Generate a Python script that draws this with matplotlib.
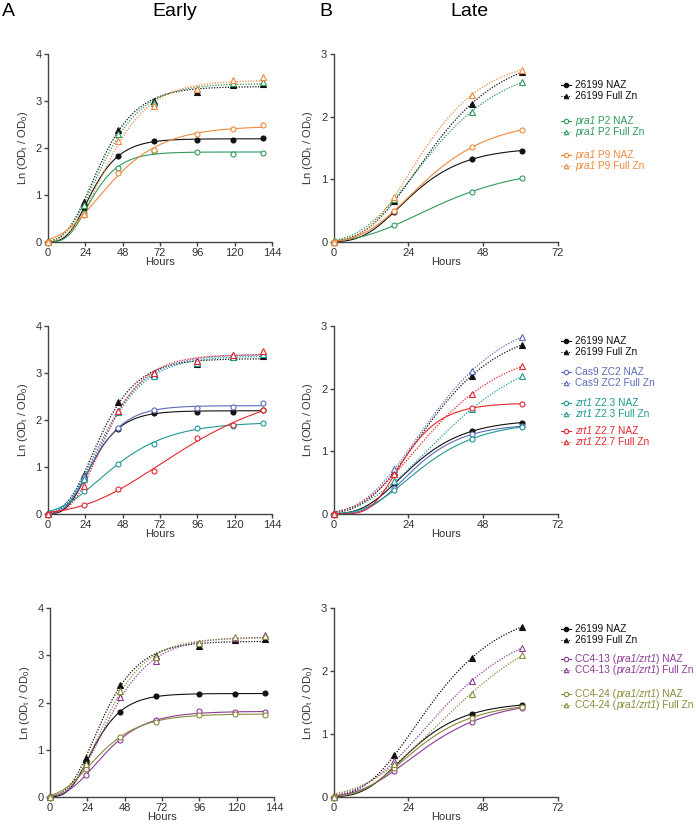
import numpy as np
import matplotlib
matplotlib.use("Agg")
import matplotlib.pyplot as plt

plt.rcParams['font.family'] = ['Liberation Sans', 'DejaVu Sans']
plt.rcParams['mathtext.fontset'] = 'custom'
plt.rcParams['mathtext.rm'] = 'Liberation Sans'
plt.rcParams['mathtext.it'] = 'Liberation Sans:italic'

# time points (hours)
hours_early = [0, 23, 45, 68, 96, 119, 138]
hours_late = [0, 19.5, 44.5, 60.5]

# row 1 - early
e1_wt_naz = [0, 0.72, 1.82, 2.15, 2.18, 2.17, 2.22]
e1_wt_zn = [0, 0.85, 2.39, 2.99, 3.19, 3.33, 3.36]
e1_p2_naz = [0, 0.62, 1.58, 1.94, 1.92, 1.87, 1.90]
e1_p2_zn = [0, 0.78, 2.29, 2.95, 3.25, 3.38, 3.41]
e1_p9_naz = [0, 0.58, 1.47, 1.95, 2.30, 2.41, 2.48]
e1_p9_zn = [0, 0.60, 2.15, 2.90, 3.25, 3.44, 3.50]
# row 1 - late
l1_wt_naz = [0, 0.48, 1.32, 1.46]
l1_wt_zn = [0, 0.65, 2.21, 2.71]
l1_p2_naz = [0, 0.27, 0.80, 1.02]
l1_p2_zn = [0, 0.69, 2.08, 2.55]
l1_p9_naz = [0, 0.50, 1.51, 1.79]
l1_p9_zn = [0, 0.72, 2.35, 2.75]

# row 2 - early
e2_wt_naz = [0, 0.72, 1.81, 2.15, 2.18, 2.17, 2.22]
e2_wt_zn = [0, 0.84, 2.38, 2.98, 3.19, 3.33, 3.36]
e2_cas_naz = [0, 0.74, 1.83, 2.22, 2.25, 2.28, 2.36]
e2_cas_zn = [0, 0.80, 2.20, 3.00, 3.25, 3.38, 3.42]
e2_z23_naz = [0, 0.48, 1.07, 1.50, 1.82, 1.88, 1.94]
e2_z23_zn = [0, 0.75, 2.16, 2.94, 3.22, 3.34, 3.40]
e2_z27_naz = [0, 0.20, 0.53, 0.92, 1.61, 1.90, 2.21]
e2_z27_zn = [0, 0.60, 2.20, 3.00, 3.25, 3.38, 3.47]
# row 2 - late
l2_wt_naz = [0, 0.48, 1.32, 1.46]
l2_wt_zn = [0, 0.67, 2.21, 2.70]
l2_cas_naz = [0, 0.41, 1.27, 1.40]
l2_cas_zn = [0, 0.72, 2.28, 2.83]
l2_z23_naz = [0, 0.38, 1.20, 1.39]
l2_z23_zn = [0, 0.52, 1.67, 2.20]
l2_z27_naz = [0, 0.62, 1.69, 1.76]
l2_z27_zn = [0, 0.64, 1.91, 2.36]

# row 3 - early
e3_wt_naz = [0, 0.72, 1.80, 2.14, 2.17, 2.17, 2.21]
e3_wt_zn = [0, 0.83, 2.38, 2.98, 3.19, 3.32, 3.34]
e3_c13_naz = [0, 0.47, 1.21, 1.62, 1.81, 1.79, 1.79]
e3_c13_zn = [0, 0.65, 2.12, 2.88, 3.25, 3.37, 3.42]
e3_c24_naz = [0, 0.60, 1.26, 1.59, 1.74, 1.76, 1.74]
e3_c24_zn = [0, 0.70, 2.24, 2.96, 3.25, 3.38, 3.40]
# row 3 - late
l3_wt_naz = [0, 0.48, 1.32, 1.46]
l3_wt_zn = [0, 0.66, 2.21, 2.70]
l3_c13_naz = [0, 0.42, 1.19, 1.42]
l3_c13_zn = [0, 0.57, 1.84, 2.37]
l3_c24_naz = [0, 0.46, 1.26, 1.43]
l3_c24_zn = [0, 0.53, 1.64, 2.25]

BLACK = '#111111'
GREEN = '#2f9a5c'
ORANGE = '#f0893c'
BLUE = '#5b6cb8'
TEAL = '#1f9994'
RED = '#e5262e'
PURPLE = '#8c3a94'
OLIVE = '#8a8a3a'

# legend labels as (text, italic) pieces
labels_row1 = [[('26199 NAZ', False)], [('26199 Full Zn', False)],
               [('pra1', True), (' P2 NAZ', False)], [('pra1', True), (' P2 Full Zn', False)],
               [('pra1', True), (' P9 NAZ', False)], [('pra1', True), (' P9 Full Zn', False)]]
labels_row2 = [[('26199 NAZ', False)], [('26199 Full Zn', False)],
               [('Cas9 ZC2 NAZ', False)], [('Cas9 ZC2 Full Zn', False)],
               [('zrt1', True), (' Z2.3 NAZ', False)], [('zrt1', True), (' Z2.3 Full Zn', False)],
               [('zrt1', True), (' Z2.7 NAZ', False)], [('zrt1', True), (' Z2.7 Full Zn', False)]]
labels_row3 = [[('26199 NAZ', False)], [('26199 Full Zn', False)],
               [('CC4-13 (', False), ('pra1/zrt1', True), (') NAZ', False)],
               [('CC4-13 (', False), ('pra1/zrt1', True), (') Full Zn', False)],
               [('CC4-24 (', False), ('pra1/zrt1', True), (') NAZ', False)],
               [('CC4-24 (', False), ('pra1/zrt1', True), (') Full Zn', False)]]


def gompertz(t, A, mu, lam):
    with np.errstate(over='ignore', invalid='ignore'):
        return A * np.exp(-np.exp(mu * np.e / A * (lam - t) + 1))


def fit_gompertz(t, y):
    # crude grid search, then finer ones around the best point
    t = np.asarray(t, float)
    y = np.asarray(y, float)
    ym = y.max()
    A = np.linspace(0.9 * ym, 2.5 * ym, 70)
    mu = np.geomspace(0.005, 0.4, 70)
    lam = np.linspace(-15, 40, 70)
    for _ in range(3):
        AA, MM, LL = np.meshgrid(A, mu, lam, indexing='ij')
        pred = gompertz(t[None, None, None, :], AA[..., None], MM[..., None], LL[..., None])
        err = np.nansum((pred - y) ** 2, axis=-1)
        i, j, k = np.unravel_index(np.nanargmin(err), err.shape)
        a0, m0, l0 = A[i], mu[j], lam[k]
        da = (A[1] - A[0]) * 1.5
        dm = (mu[min(j + 1, len(mu) - 1)] - mu[max(j - 1, 0)])
        dl = (lam[1] - lam[0]) * 1.5
        A = np.linspace(max(a0 - da, 0.05), a0 + da, 25)
        mu = np.linspace(max(m0 - dm, 1e-4), m0 + dm, 25)
        lam = np.linspace(l0 - dl, l0 + dl, 25)
    return a0, m0, l0


def draw_series(ax, t, y, color, marker, filled, dotted):
    p = fit_gompertz(t, y)
    tt = np.linspace(0, max(t), 300)
    ax.plot(tt, gompertz(tt, *p), color=color, lw=0.8 if not dotted else 0.9,
            ls=(0, (1, 1.2)) if dotted else '-', zorder=2, clip_on=False)
    ax.plot(t, y, ls='none', marker=marker, ms=3.6 if marker == 'o' else 3.8,
            mfc=color if filled else 'white', mec=color, mew=0.8, zorder=3, clip_on=False)


def style_axes(ax, xmax, ymax):
    ax.set_xlim(0, xmax)
    ax.set_ylim(0, ymax)
    ax.set_xticks(np.arange(0, xmax + 1, 24))
    ax.set_yticks(np.arange(0, ymax + 1, 1))
    for s in ['top', 'right']:
        ax.spines[s].set_visible(False)
    for s in ['left', 'bottom']:
        ax.spines[s].set_color('#444444')
        ax.spines[s].set_linewidth(1.0)
    ax.tick_params(direction='out', length=3, width=1, colors='#444444',
                   labelsize=8, labelcolor='#333333', pad=1.5)
    ax.set_xlabel('Hours', fontsize=8, color='#333333', labelpad=-1)
    ax.set_ylabel(r'Ln (OD$_\mathrm{t}$ / OD$_\mathrm{0}$)', fontsize=8,
                  color='#333333', labelpad=4)


def piece_text(ax, x, y, pieces, color, size):
    # regular + italic pieces chained one after another
    prev = ax.text(x, y, pieces[0][0], color=color, fontsize=size, va='center', ha='left',
                   style='italic' if pieces[0][1] else 'normal')
    for txt, it in pieces[1:]:
        prev = ax.annotate(txt, xy=(1, 0), xycoords=prev, va='bottom', ha='left',
                           color=color, fontsize=size, style='italic' if it else 'normal')


W, H = 696, 830
fig = plt.figure(figsize=(W / 100, H / 100), dpi=100)


def px_axes(x0, y0, x1, y1):
    return fig.add_axes([x0 / W, 1 - y1 / H, (x1 - x0) / W, (y1 - y0) / H])


rows = [
    (54, 242, 48, [
        (e1_wt_naz, l1_wt_naz, BLACK, 'o', True, False),
        (e1_wt_zn, l1_wt_zn, BLACK, '^', True, True),
        (e1_p2_naz, l1_p2_naz, GREEN, 'o', False, False),
        (e1_p2_zn, l1_p2_zn, GREEN, '^', False, True),
        (e1_p9_naz, l1_p9_naz, ORANGE, 'o', False, False),
        (e1_p9_zn, l1_p9_zn, ORANGE, '^', False, True)],
     labels_row1, [85, 96, 121, 132, 155, 166]),
    (326, 514, 48, [
        (e2_wt_naz, l2_wt_naz, BLACK, 'o', True, False),
        (e2_wt_zn, l2_wt_zn, BLACK, '^', True, True),
        (e2_cas_naz, l2_cas_naz, BLUE, 'o', False, False),
        (e2_cas_zn, l2_cas_zn, BLUE, '^', False, True),
        (e2_z23_naz, l2_z23_naz, TEAL, 'o', False, False),
        (e2_z23_zn, l2_z23_zn, TEAL, '^', False, True),
        (e2_z27_naz, l2_z27_naz, RED, 'o', False, False),
        (e2_z27_zn, l2_z27_zn, RED, '^', False, True)],
     labels_row2, [341, 352, 372, 383, 403, 414, 431, 442]),
    (608, 797, 50, [
        (e3_wt_naz, l3_wt_naz, BLACK, 'o', True, False),
        (e3_wt_zn, l3_wt_zn, BLACK, '^', True, True),
        (e3_c13_naz, l3_c13_naz, PURPLE, 'o', False, False),
        (e3_c13_zn, l3_c13_zn, PURPLE, '^', False, True),
        (e3_c24_naz, l3_c24_naz, OLIVE, 'o', False, False),
        (e3_c24_zn, l3_c24_zn, OLIVE, '^', False, True)],
     labels_row3, [629, 640, 659, 670, 694, 705]),
]

# overlay in pixel coordinates for the hand-made legends
ov = fig.add_axes([0, 0, 1, 1])
ov.set_xlim(0, W)
ov.set_ylim(H, 0)
ov.axis('off')

for top, bottom, left, series, labels, leg_y in rows:
    ax_e = px_axes(left, top, left + 224, bottom)
    ax_l = px_axes(333.5, top, 557.5, bottom)
    for ye, yl, c, m, f, d in series:
        draw_series(ax_e, hours_early, ye, c, m, f, d)
        draw_series(ax_l, hours_late, yl, c, m, f, d)
    style_axes(ax_e, 144, 4)
    style_axes(ax_l, 72, 3)

    for (ye, yl, c, m, f, d), lab, yy in zip(series, labels, leg_y):
        ov.plot([561, 571], [yy, yy], color=c, lw=0.8,
                ls=(0, (1, 1.2)) if d else '-')
        ov.plot([566], [yy], ls='none', marker=m, ms=3.2, mec=c, mew=0.8,
                mfc=c if f else 'white')
        piece_text(ov, 575, yy, lab, c, 7.3)

# panel titles
fig.text(2 / W, 1 - 12 / H, 'A', fontsize=14, va='center', ha='left')
fig.text(175 / W, 1 - 12 / H, 'Early', fontsize=14, va='center', ha='center')
fig.text(319 / W, 1 - 12 / H, 'B', fontsize=14, va='center', ha='left')
fig.text(469 / W, 1 - 12 / H, 'Late', fontsize=14, va='center', ha='center')

fig.savefig('out.png', dpi=100)
